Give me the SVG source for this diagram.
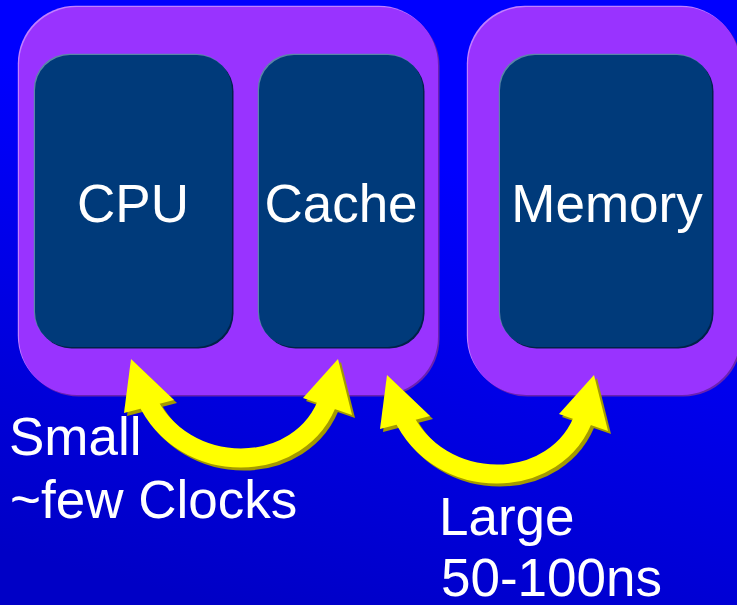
<svg xmlns="http://www.w3.org/2000/svg" xmlns:xlink="http://www.w3.org/1999/xlink" width="737" height="605" viewBox="0 0 737 605">
  <defs>
    <linearGradient id="bg" x1="0.6" y1="0" x2="0.3" y2="1">
      <stop offset="0.25" stop-color="#0000ff"/>
      <stop offset="1" stop-color="#0000c6"/>
    </linearGradient>
    <!-- double-headed curved arrow; colour comes from the referencing element -->
    <g id="curve-arrow">
      <path d="M146,398 C182,478 302,478 329,398" fill="none" stroke="currentColor" stroke-width="19"/>
      <polygon points="131,359 124,413 174,400" fill="currentColor"/>
      <polygon points="338,359 352,415 303,398" fill="currentColor"/>
    </g>
  </defs>
  <style>
    .frame { fill: #9933ff; }
    .frame-lo { fill: #6a22b0; }
    .frame-hi { fill: #c27fff; }
    .unit { fill: #003a7a; }
    .unit-lo { fill: #00214a; }
    .unit-hi { fill: #5a86a8; }
    .label { font-family: "Liberation Sans", Arial, sans-serif; font-size: 53px; fill: #ffffff; }
    .mid { text-anchor: middle; }
    .arrow-shadow { color: #a39a00; }
    .arrow-body { color: #ffff00; }
  </style>

  <rect x="0" y="0" width="737" height="605" fill="url(#bg)"/>

  <!-- processor package: CPU + cache -->
  <g id="processor">
    <rect class="frame-lo" x="20.5" y="8.5" width="419" height="388" rx="58"/>
    <rect class="frame-hi" x="17.8" y="5.8" width="419" height="388" rx="58"/>
    <rect class="frame" x="19" y="7" width="419" height="388" rx="58"/>
  </g>

  <g id="cpu">
    <rect class="unit-lo" x="36.5" y="56.5" width="197" height="292" rx="35"/>
    <rect class="unit-hi" x="33.8" y="53.8" width="197" height="292" rx="35"/>
    <rect class="unit" x="35" y="55" width="197" height="292" rx="35"/>
    <text class="label mid" x="133" y="222">CPU</text>
  </g>

  <g id="cache">
    <rect class="unit-lo" x="260.5" y="56.5" width="164" height="292" rx="35"/>
    <rect class="unit-hi" x="257.8" y="53.8" width="164" height="292" rx="35"/>
    <rect class="unit" x="259" y="55" width="164" height="292" rx="35"/>
    <text class="label mid" x="341" y="222">Cache</text>
  </g>

  <!-- main memory -->
  <g id="memory">
    <rect class="frame-lo" x="469.5" y="8.5" width="272" height="388" rx="58"/>
    <rect class="frame-hi" x="466.8" y="5.8" width="272" height="388" rx="58"/>
    <rect class="frame" x="468" y="7" width="272" height="388" rx="58"/>
    <rect class="unit-lo" x="501.5" y="56.5" width="212" height="292" rx="35"/>
    <rect class="unit-hi" x="498.8" y="53.8" width="212" height="292" rx="35"/>
    <rect class="unit" x="500" y="55" width="212" height="292" rx="35"/>
    <text class="label mid" x="607" y="222">Memory</text>
  </g>

  <!-- access paths -->
  <g id="connectors">
    <g id="cpu-cache-link">
      <use class="arrow-shadow" xlink:href="#curve-arrow" transform="translate(3,3)"/>
      <use class="arrow-body" xlink:href="#curve-arrow"/>
    </g>
    <g id="cache-memory-link" transform="translate(256,16)">
      <use class="arrow-shadow" xlink:href="#curve-arrow" transform="translate(3,3)"/>
      <use class="arrow-body" xlink:href="#curve-arrow"/>
    </g>
  </g>

  <g id="latency-labels">
    <text class="label" x="9" y="455">Small</text>
    <text class="label" x="10" y="518">~few Clocks</text>
    <text class="label" x="439" y="535">Large</text>
    <text class="label" x="441" y="596">50-100ns</text>
  </g>
</svg>
